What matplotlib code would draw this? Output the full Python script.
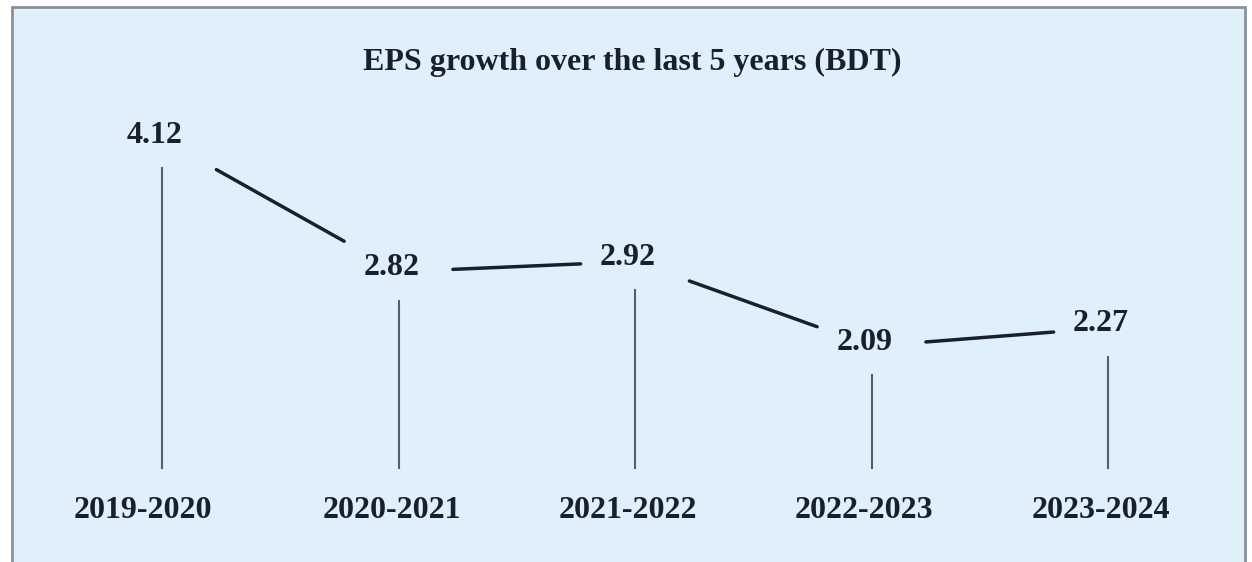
import matplotlib.pyplot as plt
from matplotlib.patches import Rectangle

# data
years = ["2019-2020", "2020-2021", "2021-2022", "2022-2023", "2023-2024"]
eps = [4.12, 2.82, 2.92, 2.09, 2.27]
title = "EPS growth over the last 5 years (BDT)"

plt.rcParams['font.family'] = ['Liberation Serif', 'DejaVu Serif']

fig = plt.figure(figsize=(12.52, 5.62), dpi=100)
ax = fig.add_axes([0, 0, 1, 1])
# pixel mapping: x 162 -> 0, 236.5 px per step; y 133px(from top) -> 4.12, 102 px per unit
ax.set_xlim(-162 / 236.5, (1252 - 162) / 236.5)
ax.set_ylim(4.12 - 429 / 102, 4.12 + 133 / 102)
ax.axis("off")

# panel
fig.patches.append(Rectangle((12 / 1252, -0.05), 1233 / 1252, 555 / 562 + 0.05,
                             transform=fig.transFigure, facecolor="#dff0fa",
                             edgecolor="#8c9099", linewidth=2, zorder=-1))

base = 4.12 - 335 / 102  # baseline of vertical lines
gap = 35 / 102

xs = list(range(len(eps)))
for i, v in enumerate(eps):
    ax.text(i - 0.03, v - 0.02, f"{v:.2f}", ha="center", va="center", fontsize=23,
            fontweight="bold", color="#18212b")
    ax.plot([i, i], [base, v - gap], color="#5a5f66", lw=1.5)
    dx = -0.08 if i == 0 else -0.03
    ax.text(i + dx, base - 42 / 102, years[i], ha="center", va="center", fontsize=23,
            fontweight="bold", color="#18212b")

# connecting segments between labels
for i in range(len(eps) - 1):
    t0, t1 = 0.23, 0.77
    x0 = xs[i] + t0 * (xs[i + 1] - xs[i])
    x1 = xs[i] + t1 * (xs[i + 1] - xs[i])
    y0 = eps[i] + t0 * (eps[i + 1] - eps[i])
    y1 = eps[i] + t1 * (eps[i + 1] - eps[i])
    ax.plot([x0, x1], [y0 - 0.06, y1 - 0.06], color="#18212b", lw=2.5,
            solid_capstyle="round")

fig.text(632 / 1252, 1 - 62 / 562, title, ha="center", va="center", fontsize=23,
         fontweight="bold", color="#18212b")

plt.savefig("out.png", dpi=100)
